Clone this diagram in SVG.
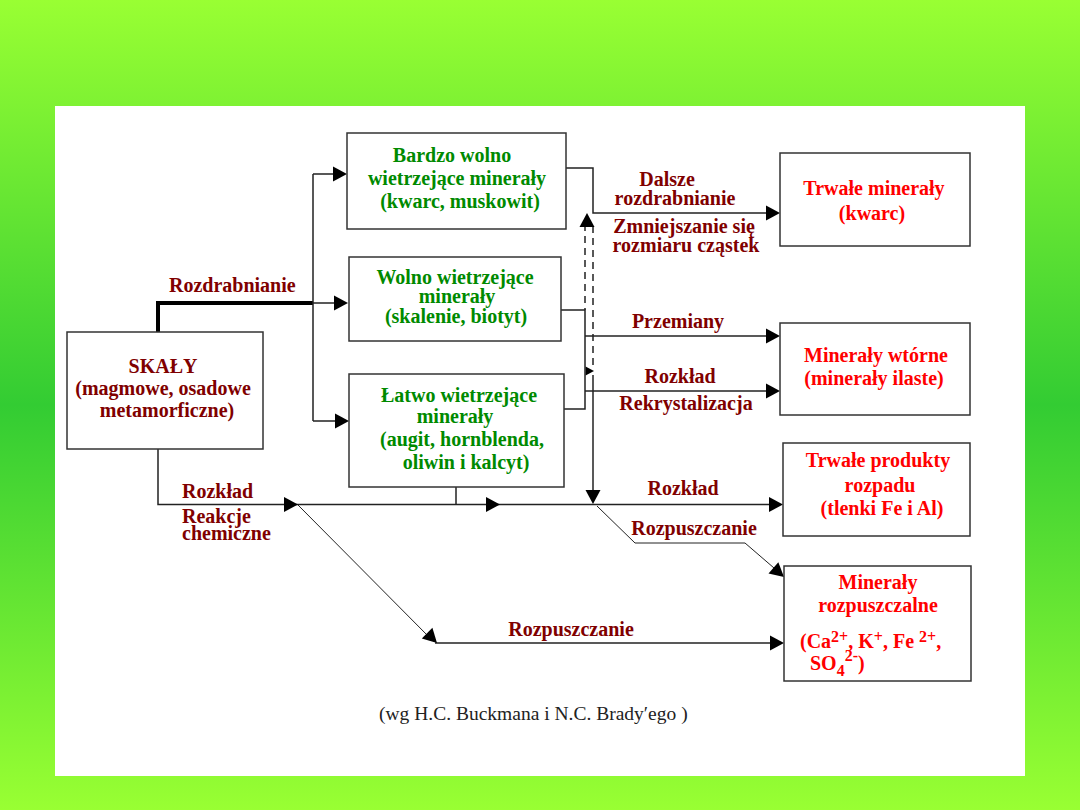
<svg xmlns="http://www.w3.org/2000/svg" xmlns:xlink="http://www.w3.org/1999/xlink" width="1080" height="810" viewBox="0 0 1080 810">
<style>
.box{fill:#fff;stroke:#333;stroke-width:1.5}
.ln{fill:none;stroke:#222;stroke-width:1.5}
.thin{fill:none;stroke:#222;stroke-width:1}
.thick{fill:none;stroke:#000;stroke-width:4}
.dash{fill:none;stroke:#222;stroke-width:1.5;stroke-dasharray:7,5}
text{font-family:"Liberation Serif","Times New Roman",serif;font-weight:bold;font-size:20px}
.g{fill:#008a00;text-anchor:middle}
.r{fill:#ff0000;text-anchor:middle}
.rl{fill:#ff0000}
.m{fill:#800000;text-anchor:middle}
.ml{fill:#800000}
.ah{fill:#000}
.sup{font-size:16px}
</style>
<defs>
<linearGradient id="bg" x1="0" y1="0" x2="0" y2="1">
<stop offset="0" stop-color="#99ff33"/>
<stop offset="0.5" stop-color="#33cc33"/>
<stop offset="1" stop-color="#99ff33"/>
</linearGradient>
<path id="a" class="ah" d="M0,0 L-14,-7.5 L-14,7.5 Z"/>
</defs>
<rect x="0" y="0" width="1080" height="810" fill="url(#bg)"/>
<rect x="55" y="106" width="970" height="670" fill="#fff"/>

<g id="connectors">
<path class="thick" d="M158,332 V303 H313"/>
<path class="ln" d="M313,303 H336"/>
<path class="ln" d="M313,174 V421 M313,174 H334 M313,421 H336"/>
<path class="ln" d="M566,168 H593 V213 H768"/>
<path class="ln" d="M561,310 H585 V409 H564"/>
<path class="ln" d="M585,336 H768"/>
<path class="ln" d="M585,391 H768"/>
<path class="dash" d="M585,224 V310"/>
<path class="dash" d="M593,226 V366"/>
<path class="ln" d="M593,375 V492"/>
<path class="ln" d="M158,449 V504.5 H770"/>
<path class="ln" d="M456,487 V504.5"/>
<path class="thin" d="M298,505 L433,641"/>
<path class="ln" d="M435,643 H772"/>
<path class="thin" d="M597,506 L635,543 H745 L774,568"/>
<use xlink:href="#a" transform="translate(348,303)"/>
<use xlink:href="#a" transform="translate(347,174)"/>
<use xlink:href="#a" transform="translate(349,421)"/>
<use xlink:href="#a" transform="translate(780,213)"/>
<use xlink:href="#a" transform="translate(780,336)"/>
<use xlink:href="#a" transform="translate(780,391)"/>
<use xlink:href="#a" transform="translate(587,213) rotate(-90)"/>
<use xlink:href="#a" transform="translate(594,371) scale(0.6)"/>
<use xlink:href="#a" transform="translate(593,504) rotate(90)"/>
<use xlink:href="#a" transform="translate(298,504.5)"/>
<use xlink:href="#a" transform="translate(500,504.5)"/>
<use xlink:href="#a" transform="translate(783,504.5)"/>
<use xlink:href="#a" transform="translate(437,643) rotate(45)"/>
<use xlink:href="#a" transform="translate(784,643)"/>
<use xlink:href="#a" transform="translate(784,577) rotate(41)"/>
</g>

<g id="labels">
<text class="ml" x="169" y="292">Rozdrabnianie</text>
<text class="ml" x="182" y="498">Rozkład</text>
<text class="ml" x="182" y="523">Reakcje</text>
<text class="ml" x="182" y="540">chemiczne</text>
<text class="m" x="667" y="186">Dalsze</text>
<text class="m" x="675" y="205">rozdrabnianie</text>
<text class="m" x="684" y="233">Zmniejszanie się</text>
<text class="m" x="686" y="252">rozmiaru cząstek</text>
<text class="m" x="678" y="328">Przemiany</text>
<text class="m" x="680" y="383">Rozkład</text>
<text class="m" x="686" y="410">Rekrystalizacja</text>
<text class="m" x="683" y="495">Rozkład</text>
<text class="m" x="694" y="535">Rozpuszczanie</text>
<text class="m" x="571" y="636">Rozpuszczanie</text>
</g>

<g id="skaly">
<rect class="box" x="67" y="332" width="196" height="117"/>
<text class="m" x="163" y="373">SKAŁY</text>
<text class="m" x="163" y="395">(magmowe, osadowe</text>
<text class="m" x="167" y="417">metamorficzne)</text>
</g>

<g id="bardzo-wolno">
<rect class="box" x="347" y="133" width="219" height="96"/>
<text class="g" x="452" y="162">Bardzo wolno</text>
<text class="g" x="457" y="185">wietrzejące minerały</text>
<text class="g" x="460" y="208">(kwarc, muskowit)</text>
</g>

<g id="wolno">
<rect class="box" x="349" y="257" width="212" height="84"/>
<text class="g" x="455" y="284">Wolno wietrzejące</text>
<text class="g" x="457" y="303">minerały</text>
<text class="g" x="456" y="323">(skalenie, biotyt)</text>
</g>

<g id="latwo">
<rect class="box" x="349" y="374" width="215" height="113"/>
<text class="g" x="459" y="402">Łatwo wietrzejące</text>
<text class="g" x="455" y="423">minerały</text>
<text class="g" x="462" y="446">(augit, hornblenda,</text>
<text class="g" x="466" y="469">oliwin i kalcyt)</text>
</g>

<g id="trwale-mineraly">
<rect class="box" x="780" y="153" width="190" height="93"/>
<text class="r" x="874" y="195">Trwałe minerały</text>
<text class="r" x="872" y="220">(kwarc)</text>
</g>

<g id="mineraly-wtorne">
<rect class="box" x="780" y="323" width="190" height="92"/>
<text class="r" x="876" y="362">Minerały wtórne</text>
<text class="r" x="874" y="385">(minerały ilaste)</text>
</g>

<g id="trwale-produkty">
<rect class="box" x="783" y="443" width="187" height="93"/>
<text class="r" x="878" y="467">Trwałe produkty</text>
<text class="r" x="880" y="492">rozpadu</text>
<text class="r" x="882" y="515">(tlenki Fe i Al)</text>
</g>

<g id="mineraly-rozpuszczalne">
<rect class="box" x="784" y="566" width="187" height="115"/>
<text class="r" x="878" y="589">Minerały</text>
<text class="r" x="878" y="612">rozpuszczalne</text>
<text class="rl" x="800" y="648">(Ca<tspan class="sup" dy="-6">2+</tspan><tspan dy="6">, K</tspan><tspan class="sup" dy="-6">+</tspan><tspan dy="6">, Fe </tspan><tspan class="sup" dy="-6">2+</tspan><tspan dy="6">,</tspan></text>
<text class="rl" x="810" y="670">SO<tspan class="sup" dy="6">4</tspan><tspan class="sup" dy="-15">2-</tspan><tspan dy="9">)</tspan></text>
</g>

<text x="379" y="720" style="font-weight:normal;fill:#222;font-size:19.5px">(wg H.C. Buckmana i N.C. Brady′ego )</text>
</svg>
